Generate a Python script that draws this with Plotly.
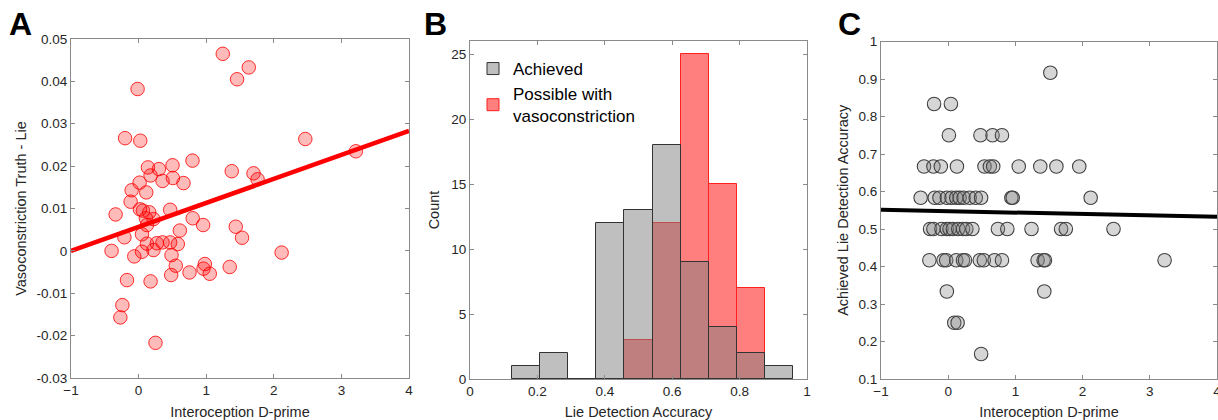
import plotly.graph_objects as go

# ---------------- Data ----------------
# Panel A: interoception d-prime vs vasoconstriction (truth - lie)
a_x = [1.245, 1.63, 1.457, -0.015, -0.20, 0.025, 2.466, 3.214, 0.797, 0.502,
       0.138, 0.30, 1.378, 1.70, 1.76, 0.177, 0.507, 0.354, 0.664, 0.015,
       -0.103, 0.113, -0.118, 0.02, 0.064, 0.157, 0.467, -0.34, 0.108, 0.22,
       0.80, 0.955, 0.123, 1.437, 0.61, 0.05, 1.53, -0.21, 0.123, 0.354,
       0.27, 0.467, 0.58, -0.40, 0.22, 0.05, -0.064, 2.116, 0.487, 0.55,
       0.98, 0.96, 1.348, 1.053, 0.753, 0.482, -0.172, 0.177, -0.24, -0.27,
       0.25]
a_y = [0.0465, 0.0433, 0.0405, 0.0382, 0.0266, 0.0260, 0.0264, 0.0235, 0.0213, 0.0202,
       0.0197, 0.0193, 0.0188, 0.0183, 0.0169, 0.0178, 0.0172, 0.0165, 0.0160, 0.0161,
       0.0143, 0.0138, 0.0116, 0.0098, 0.0095, 0.0091, 0.0097, 0.0086, 0.0077, 0.0075,
       0.0077, 0.0061, 0.0061, 0.0057, 0.0048, 0.0039, 0.0031, 0.0032, 0.0017, 0.0020,
       0.0018, 0.0020, 0.0016, 0.0000, 0.0002, -0.0002, -0.0013, -0.0004, -0.0010, -0.0035,
       -0.0031, -0.0042, -0.0038, -0.0054, -0.0051, -0.0057, -0.0069, -0.0072, -0.0128, -0.0157,
       -0.0217]
a_fit_x = [-1, 4]
a_fit_y = [0.0, 0.0283]

# Panel B: histogram of lie detection accuracy
b_centers = [1/6, 3/12, 4/12, 5/12, 6/12, 7/12, 8/12, 9/12, 10/12, 11/12]
b_achieved = [1, 2, 0, 12, 13, 18, 9, 4, 2, 1]
b_possible = [0, 0, 0, 0, 3, 12, 25, 15, 7, 0]
b_bin_width = 1/12

# Panel C: interoception d-prime vs achieved accuracy
c_rows = {
    11/12: [1.52],
    10/12: [-0.21, 0.04],
    9/12: [0.01, 0.48, 0.66, 0.80],
    8/12: [-0.36, -0.22, -0.11, 0.13, 0.54, 0.62, 0.67, 1.05, 1.37, 1.61, 1.95],
    7/12: [-0.41, -0.20, -0.13, -0.02, 0.05, 0.12, 0.17, 0.23, 0.32, 0.41, 0.49, 0.94, 0.96, 2.12],
    6/12: [-0.27, -0.22, -0.10, -0.02, 0.02, 0.07, 0.15, 0.22, 0.27, 0.36, 0.74, 0.88, 1.24, 1.68, 1.75, 2.46],
    5/12: [-0.28, -0.07, -0.03, 0.12, 0.22, 0.25, 0.47, 0.53, 0.69, 0.80, 1.33, 1.42, 1.44, 3.22],
    4/12: [-0.02, 1.43],
    3/12: [0.09, 0.14],
    2/12: [0.49],
}
c_x = [x for acc, xs in c_rows.items() for x in xs]
c_y = [acc for acc, xs in c_rows.items() for x in xs]
c_fit_x = [-1, 4]
c_fit_y = [0.551, 0.533]

# tick labels
a_xticks = [-1, 0, 1, 2, 3, 4]
a_yticks = [0.05, 0.04, 0.03, 0.02, 0.01, 0, -0.01, -0.02, -0.03]
a_ytext = ["0.05", "0.04", "0.03", "0.02", "0.01", "0", "-0.01", "-0.02", "-0.03"]
b_xticks = [0, 0.2, 0.4, 0.6, 0.8, 1]
b_xtext = ["0", "0.2", "0.4", "0.6", "0.8", "1"]
b_yticks = [0, 5, 10, 15, 20, 25]
c_yticks = [0.1, 0.2, 0.3, 0.4, 0.5, 0.6, 0.7, 0.8, 0.9, 1.0]
c_ytext = ["0.1", "0.2", "0.3", "0.4", "0.5", "0.6", "0.7", "0.8", "0.9", "1"]

FONT = "Liberation Sans, Arial, Helvetica, sans-serif"
AXC = "#8a8a8a"
TXT = "#262626"

fig = go.Figure()

# Panel A
fig.add_trace(go.Scatter(x=a_x, y=a_y, mode="markers", xaxis="x", yaxis="y",
                         marker=dict(size=13.5, color="rgba(255,0,0,0.27)",
                                     line=dict(color="rgba(255,0,0,0.8)", width=1)),
                         showlegend=False))
fig.add_trace(go.Scatter(x=a_fit_x, y=a_fit_y, mode="lines", xaxis="x", yaxis="y",
                         line=dict(color="#ff0000", width=4.5), showlegend=False))

# Panel B
fig.add_trace(go.Bar(x=b_centers, y=b_possible, width=b_bin_width, xaxis="x2", yaxis="y2",
                     name="Possible with<br>vasoconstriction", legendrank=2,
                     marker=dict(color="rgba(255,0,0,0.5)", line=dict(color="#ff2020", width=1))))
fig.add_trace(go.Bar(x=b_centers, y=b_achieved, width=b_bin_width, xaxis="x2", yaxis="y2",
                     name="Achieved", legendrank=1,
                     marker=dict(color="rgba(128,128,128,0.5)", line=dict(color="#333333", width=1))))

# Panel C
fig.add_trace(go.Scatter(x=c_x, y=c_y, mode="markers", xaxis="x3", yaxis="y3",
                         marker=dict(size=13.5, color="rgba(128,128,128,0.32)",
                                     line=dict(color="#404040", width=1.1)),
                         showlegend=False))
fig.add_trace(go.Scatter(x=c_fit_x, y=c_fit_y, mode="lines", xaxis="x3", yaxis="y3",
                         line=dict(color="#000000", width=4), showlegend=False))

def ax(**kw):
    base = dict(showline=True, linecolor=AXC, linewidth=1, mirror="ticks",
                ticks="inside", ticklen=4, tickcolor=AXC, showgrid=False, zeroline=False,
                tickfont=dict(family=FONT, size=13.5, color=TXT),
                automargin=False, ticklabeloverflow="allow")
    base.update(kw)
    return base

tfont = dict(family=FONT, size=14.5, color=TXT)

fig.update_layout(
    width=1218, height=420,
    margin=dict(l=0, r=0, t=0, b=0),
    paper_bgcolor="white", plot_bgcolor="white",
    barmode="overlay", bargap=0,
    font=dict(family=FONT, color=TXT),
    xaxis=ax(domain=[71/1218, 409/1218], range=[-1, 4], tickvals=a_xticks, anchor="y",
             title=dict(text="Interoception D-prime", font=tfont, standoff=9)),
    yaxis=ax(domain=[0.1, 1-39/420], range=[-0.03, 0.05], tickvals=a_yticks, ticktext=a_ytext, anchor="x",
             title=dict(text="Vasoconstriction Truth - Lie", font=tfont, standoff=6)),
    xaxis2=ax(domain=[470/1218, 807/1218], range=[0, 1], tickvals=b_xticks, ticktext=b_xtext, anchor="y2",
              title=dict(text="Lie Detection Accuracy", font=tfont, standoff=9)),
    yaxis2=ax(domain=[1-379/420, 1-41/420], range=[0, 26], tickvals=b_yticks, anchor="x2",
              title=dict(text="Count", font=tfont, standoff=8)),
    xaxis3=ax(domain=[881/1218, 1217/1218], range=[-1, 4], tickvals=a_xticks, anchor="y3",
              title=dict(text="Interoception D-prime", font=tfont, standoff=9)),
    yaxis3=ax(domain=[1-379/420, 1-41.5/420], range=[0.1, 1.0], tickvals=c_yticks, ticktext=c_ytext, anchor="x3",
              title=dict(text="Achieved Lie Detection Accuracy", font=tfont, standoff=6)),
    legend=dict(x=473/1218, y=1-51/420, xanchor="left", yanchor="top",
                bgcolor="rgba(0,0,0,0)", font=dict(family=FONT, size=17, color="#000000"),
                tracegroupgap=6),
    annotations=[
        dict(text="<b>A</b>", x=7/1218, y=1-4/420, xref="paper", yref="paper",
             xanchor="left", yanchor="top", showarrow=False, font=dict(family=FONT, size=32, color="#000")),
        dict(text="<b>B</b>", x=422/1218, y=1-4/420, xref="paper", yref="paper",
             xanchor="left", yanchor="top", showarrow=False, font=dict(family=FONT, size=32, color="#000")),
        dict(text="<b>C</b>", x=836/1218, y=1-4/420, xref="paper", yref="paper",
             xanchor="left", yanchor="top", showarrow=False, font=dict(family=FONT, size=32, color="#000")),
    ],
)

fig.write_html("out.html", config={"displayModeBar": False},
               post_script="document.body.style.margin='0px';document.body.style.overflow='hidden';")
